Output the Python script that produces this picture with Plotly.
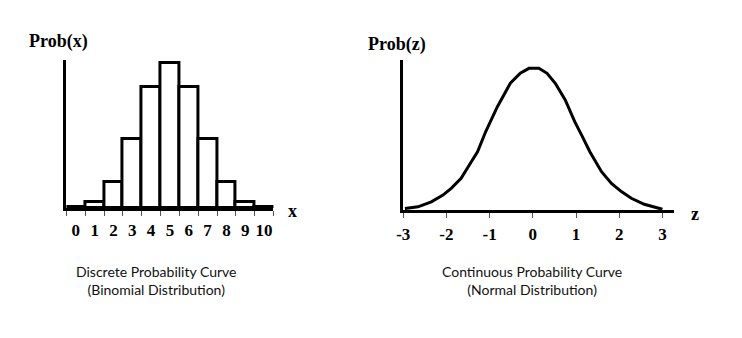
import plotly.graph_objects as go

# Binomial distribution, n = 10, p = 0.5
x_values = list(range(11))
x_probs = [0.001, 0.010, 0.044, 0.117, 0.205, 0.246, 0.205, 0.117, 0.044, 0.010, 0.001]
x_tick_text = [str(v) for v in x_values]

# Normal curve, traced as a polyline
z_points = [-2.96, -2.66, -2.35, -2.08, -1.89, -1.66, -1.47, -1.28, -1.09, -0.82,
            -0.52, -0.29, -0.09, 0.14, 0.33, 0.52, 0.75, 0.97, 1.13, 1.32,
            1.59, 1.82, 2.05, 2.28, 2.58, 2.92, 3.0]
z_density = [0.004, 0.009, 0.023, 0.042, 0.061, 0.089, 0.127, 0.164, 0.221, 0.291,
             0.357, 0.385, 0.399, 0.399, 0.385, 0.357, 0.310, 0.249, 0.211, 0.164,
             0.108, 0.075, 0.052, 0.033, 0.016, 0.005, 0.002]
z_tick_vals = [-3, -2, -1, 0, 1, 2, 3]
z_tick_text = ["-3", "-2", "-1", "0", "1", "2", "3"]

W, H = 742, 338
SERIF = dict(family="Liberation Serif, Times New Roman, serif", size=18, color="black", weight="bold")
SANS = dict(family="Lato, Calibri, sans-serif", size=14, color="#111111")


def px_x(p):
    return p / W


def px_y(p):
    return 1 - p / H


fig = go.Figure()

fig.add_trace(go.Bar(
    x=x_values, y=x_probs, width=1.0,
    marker=dict(color="white", line=dict(color="black", width=3)),
    xaxis="x", yaxis="y", showlegend=False, hoverinfo="skip",
))

fig.add_trace(go.Scatter(
    x=z_points, y=z_density, mode="lines",
    line=dict(color="black", width=3),
    xaxis="x2", yaxis="y2", showlegend=False, hoverinfo="skip",
))

bar_edges = [v - 0.5 for v in x_values] + [x_values[-1] + 0.5]

common_x = dict(showgrid=False, zeroline=False, showline=True, linecolor="black",
                linewidth=3, tickfont=dict(SERIF, size=17), fixedrange=True)
common_y = dict(showgrid=False, zeroline=False, showline=True, linecolor="black",
                linewidth=3, showticklabels=False, ticks="", fixedrange=True)

fig.update_layout(
    width=W, height=H,
    margin=dict(l=0, r=0, t=0, b=0),
    paper_bgcolor="white", plot_bgcolor="white",
    bargap=0,
    xaxis=dict(common_x, domain=[px_x(60), px_x(269)], range=[-0.5, 10.5], anchor="y",
               tickvals=x_values, ticktext=x_tick_text, ticks="", ticklabelstandoff=5,
               minor=dict(tickvals=bar_edges, ticks="outside", ticklen=5, tickwidth=1,
                          tickcolor="#555555", showgrid=False)),
    yaxis=dict(common_y, domain=[px_y(208), px_y(60)], range=[0, 0.2517], anchor="x"),
    xaxis2=dict(common_x, domain=[px_x(400), px_x(673)], range=[-3, 3.26], anchor="y2",
                tickvals=z_tick_vals, ticktext=z_tick_text, ticks="outside", ticklen=5,
                tickwidth=1, tickcolor="#555555", ticklabelstandoff=2),
    yaxis2=dict(common_y, domain=[px_y(210), px_y(60)], range=[0, 0.4225], anchor="x2"),
)

labels = [
    ("Prob(x)", 20, 42, "left", SERIF),
    ("Prob(z)", 362, 44, "left", SERIF),
    ("x", 282, 211, "left", SERIF),
    ("z", 688, 214, "left", SERIF),
    ("Discrete Probability Curve<br>(Binomial Distribution)", 150, 280, "center", SANS),
    ("Continuous Probability Curve<br>(Normal Distribution)", 530, 280, "center", SANS),
]
for text, x, y, anchor, font in labels:
    fig.add_annotation(text=text, xref="paper", yref="paper", x=px_x(x), y=px_y(y),
                       xanchor=anchor, yanchor="middle", showarrow=False, font=font,
                       align="center")

fig.write_html("out.html")
